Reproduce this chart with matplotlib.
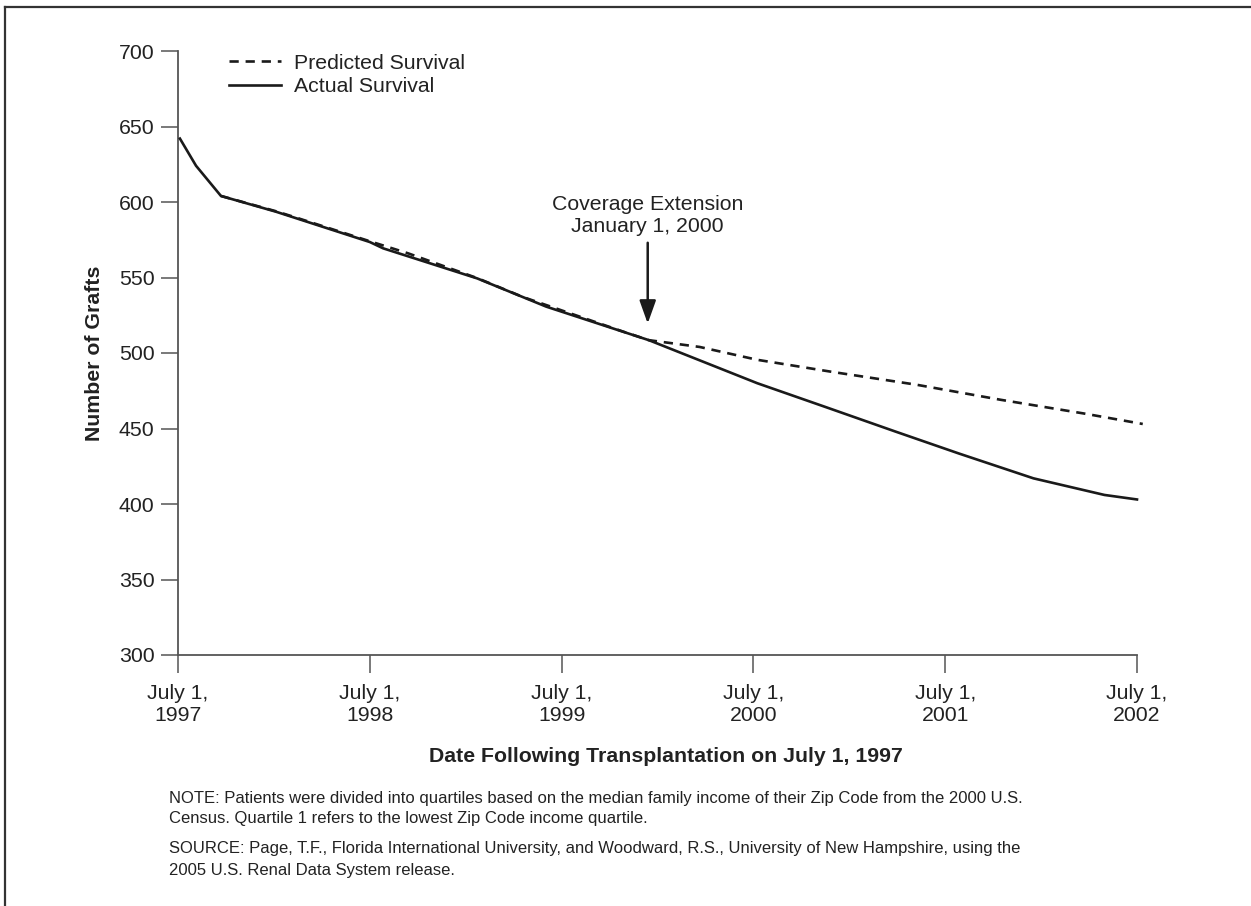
import matplotlib
matplotlib.use("Agg")
import matplotlib.pyplot as plt
from matplotlib.lines import Line2D

# ---- data (years since July 1, 1997) ----
actual_t = [0.01, 0.094, 0.224, 0.51, 1.0, 1.07, 1.56, 1.92, 2.32, 2.455,
            3.02, 3.37, 3.74, 4.07, 4.46, 4.83, 5.0]
actual_v = [642, 624, 604, 593.6, 573.5, 569.3, 549.4, 530.7, 514.1, 508.5,
            480, 464.5, 448, 433.5, 417, 406, 403]

pred_t = [0.224, 0.51, 0.62, 1.0, 1.2, 1.56, 1.80, 2.32, 2.455,
          2.72, 3.02, 3.41, 3.85, 4.29, 4.72, 5.03]
pred_v = [604, 593.9, 589.5, 574.0, 566.0, 549.6, 537.0, 514.2, 508.5,
          504, 495.5, 487.5, 479, 469, 460, 453]

x_ticks = [0, 1, 2, 3, 4, 5]
x_labels = ["July 1,\n1997", "July 1,\n1998", "July 1,\n1999",
            "July 1,\n2000", "July 1,\n2001", "July 1,\n2002"]
y_ticks = [300, 350, 400, 450, 500, 550, 600, 650, 700]

event_t = 2.449
event_label = "Coverage Extension\nJanuary 1, 2000"

note_lines = ["NOTE: Patients were divided into quartiles based on the median family income of their Zip Code from the 2000 U.S.",
              "Census. Quartile 1 refers to the lowest Zip Code income quartile."]
source_lines = ["SOURCE: Page, T.F., Florida International University, and Woodward, R.S., University of New Hampshire, using the",
                "2005 U.S. Renal Data System release."]

plt.rcParams['font.family'] = ['Liberation Sans', 'DejaVu Sans']
W, H = 1251, 906
fig = plt.figure(figsize=(W / 100, H / 100), dpi=100)
ax = fig.add_axes([178 / W, 1 - 655 / H, (1137 - 178) / W, (655 - 51) / H])

txt = "#222222"
spine_c = "#555555"
line_c = "#1a1a1a"
FS = 15.3

ax.plot(pred_t, pred_v, color=line_c, lw=1.9, dashes=(3.5, 2.6),
        clip_on=False, label="Predicted Survival", zorder=2)
ax.plot(actual_t, actual_v, color=line_c, lw=1.9, clip_on=False,
        label="Actual Survival", zorder=3)

ax.set_xlim(0, 5)
ax.set_ylim(300, 700)
ax.set_xticks(x_ticks)
ax.set_xticklabels(x_labels, fontsize=FS, color=txt, linespacing=1.22)
ax.set_yticks(y_ticks)
ax.set_yticklabels([str(v) for v in y_ticks], fontsize=FS, color=txt)

for s in ["top", "right"]:
    ax.spines[s].set_visible(False)
for s in ["left", "bottom"]:
    ax.spines[s].set_color(spine_c)
    ax.spines[s].set_linewidth(1.3)
ax.tick_params(axis="y", direction="out", length=12, width=1.1, color=spine_c, pad=5)
ax.tick_params(axis="x", direction="out", length=13, width=1.1, color=spine_c, pad=8)

# legend
leg = ax.legend(loc="upper left", bbox_to_anchor=(48 / 959, 1.0),
                frameon=False, fontsize=FS, handlelength=2.45, handletextpad=0.65,
                labelspacing=0.22, borderaxespad=0.0, borderpad=0.12,
                labelcolor=txt)

# annotation arrow
ax.annotate("", xy=(event_t, 519.5), xytext=(event_t, 573),
            arrowprops=dict(arrowstyle="-|>,head_length=1.4,head_width=0.5",
                            color=line_c, lw=1.8, shrinkA=0, shrinkB=0))
ax.text(event_t, 591, event_label, ha="center", va="center", fontsize=FS,
        color=txt, linespacing=1.22)

# axis labels
fig.text(95 / W, 1 - 353 / H, "Number of Grafts", rotation=90, ha="center",
         va="center", fontsize=FS, fontweight="bold", color=txt)
fig.text(666 / W, 1 - 757 / H, "Date Following Transplantation on July 1, 1997",
         ha="center", va="center", fontsize=FS, fontweight="bold", color=txt)

# notes
for yy, s in zip([798, 819], note_lines):
    fig.text(169 / W, 1 - yy / H, s, ha="left", va="center", fontsize=12, color=txt)
for yy, s in zip([849, 870], source_lines):
    fig.text(169 / W, 1 - yy / H, s, ha="left", va="center", fontsize=12, color=txt)

# figure border (top and left)
fig.add_artist(Line2D([5 / W, 5 / W], [0, 1 - 7 / H], transform=fig.transFigure,
                      color="#333333", lw=1.6))
fig.add_artist(Line2D([5 / W, 1], [1 - 7 / H, 1 - 7 / H], transform=fig.transFigure,
                      color="#333333", lw=1.6))

fig.savefig("out.png", dpi=100, facecolor="white")
